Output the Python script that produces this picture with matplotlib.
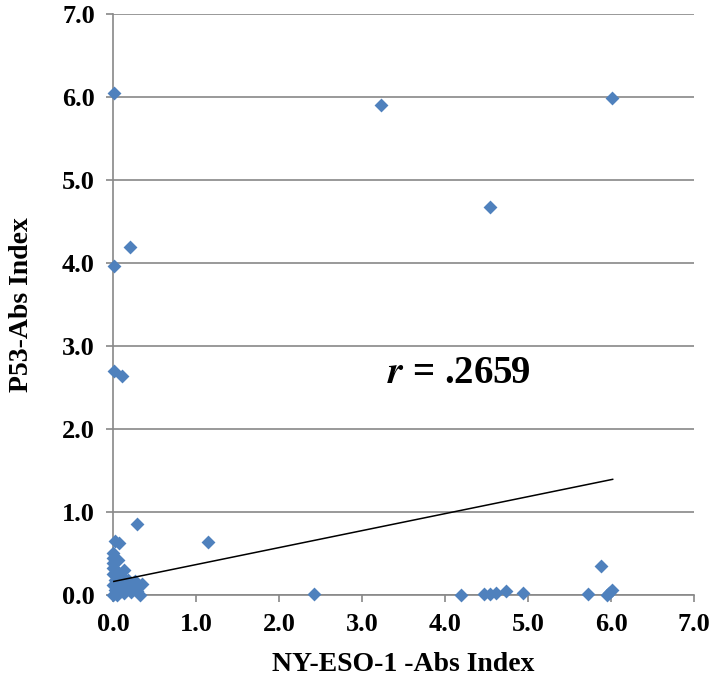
import matplotlib
matplotlib.use("Agg")
import matplotlib.pyplot as plt

# NY-ESO-1 vs P53 antibody indices
nyeso = [0.01, 3.23, 6.01, 4.54, 0.21, 0.01, 0.01, 0.11, 0.29, 1.14,
         0.03, 0.07, 2.42, 4.19, 4.47, 4.54, 4.62, 4.73, 4.94, 5.72,
         5.88, 5.95, 6.01, 5.98,
         0.00, 0.00, 0.00, 0.00, 0.06, 0.13, 0.08, 0.02, 0.18, 0.20,
         0.29, 0.33, 0.05, 0.00, 0.13, 0.35, 0.27, 0.00, 0.00, 0.02,
         0.08, 0.10, 0.05, 0.22, 0.15, 0.04]
p53 = [6.04, 5.90, 5.99, 4.67, 4.19, 3.96, 2.69, 2.64, 0.85, 0.63,
       0.65, 0.62, 0.01, 0.00, 0.01, 0.01, 0.02, 0.05, 0.02, 0.01,
       0.35, 0.00, 0.06, 0.02,
       0.50, 0.44, 0.38, 0.32, 0.42, 0.30, 0.24, 0.18, 0.18, 0.10,
       0.04, 0.00, 0.00, 0.00, 0.02, 0.13, 0.16, 0.25, 0.12, 0.06,
       0.10, 0.05, 0.15, 0.03, 0.08, 0.30]

# linear trend line end points
trend_x = [0.01, 6.02]
trend_y = [0.16, 1.39]

ticks = [0, 1, 2, 3, 4, 5, 6, 7]
tick_labels = [f"{t:.1f}" for t in ticks]

plt.rcParams["font.family"] = ["Liberation Serif", "DejaVu Serif"]
plt.rcParams["mathtext.fontset"] = "stix"

fig = plt.figure(figsize=(7.09, 6.88), dpi=100)
ax = fig.add_axes([113 / 709, 93.3 / 688, 581 / 709, 581 / 688])

grey = "#888888"
ax.scatter(nyeso, p53, marker="D", s=50, color="#4F81BD", zorder=3,
           linewidths=0, clip_on=False)
ax.plot(trend_x, trend_y, color="black", lw=1.1, zorder=4)

ax.set_xlim(0, 7)
ax.set_ylim(0, 7)
ax.set_xticks(ticks)
ax.set_yticks(ticks)
ax.set_xticklabels(tick_labels, fontsize=19, fontweight="bold")
ax.set_yticklabels(tick_labels, fontsize=19, fontweight="bold")
ax.yaxis.grid(True, color=grey, lw=1.2)
ax.set_axisbelow(True)
for s in ("top", "right"):
    ax.spines[s].set_visible(False)
for s in ("left", "bottom"):
    ax.spines[s].set_color(grey)
    ax.spines[s].set_linewidth(1.2)
ax.tick_params(axis="both", direction="out", length=5, width=1.2,
               color=grey, pad=8)

ax.set_xlabel("NY-ESO-1 -Abs Index", fontsize=20, fontweight="bold",
              labelpad=12)
ax.set_ylabel("P53-Abs Index", fontsize=20, fontweight="bold", labelpad=20)

ax.text(3.3, 2.67, r"$\mathbfit{r}\ $= .2659", fontsize=28,
        fontweight="bold", va="center", ha="left")

fig.savefig("out.png", dpi=100)
